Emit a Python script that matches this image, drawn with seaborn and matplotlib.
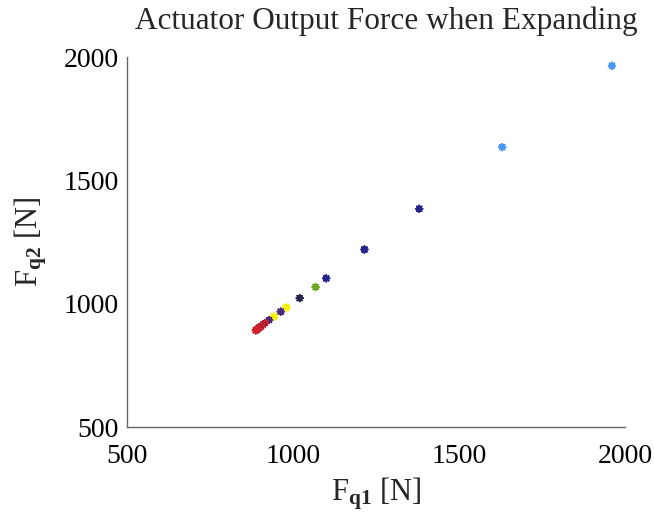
import matplotlib
matplotlib.use("Agg")
import matplotlib.pyplot as plt
import seaborn as sns
import pandas as pd

# Data
fq1 = [1960, 1630, 1380, 1215, 1100, 1068, 1020, 980, 963, 943, 928, 916, 910, 904, 899, 895, 891, 888]
fq2 = [1965, 1635, 1385, 1220, 1103, 1068, 1023, 985, 968, 948, 934, 922, 916, 909, 904, 899, 895, 892]
groups = ["c1", "c1", "b", "b", "b", "g", "k", "y", "p", "y", "p", "r", "r2", "r", "r2", "r", "r", "r"]
group_colors = {"c1": "#4a98ff", "b": "#24248e", "g": "#6aa81e", "k": "#24244e",
                "y": "#f4f000", "p": "#4a2a7a", "r": "#d0202a", "r2": "#9a2035"}

sns.set_style("white")
plt.rcParams["font.family"] = ["Liberation Serif", "DejaVu Serif"]
plt.rcParams["mathtext.fontset"] = "custom"
plt.rcParams["mathtext.rm"] = "Liberation Serif"
plt.rcParams["mathtext.it"] = "Liberation Serif:italic"
plt.rcParams["mathtext.bf"] = "Liberation Serif:bold"

df = pd.DataFrame({"fq1": fq1, "fq2": fq2, "grp": groups})

fig = plt.figure(figsize=(6.54, 5.14), dpi=100)
ax = fig.add_axes([0.194, 0.169, 0.762, 0.72])
sns.scatterplot(data=df, x="fq1", y="fq2", hue="grp", palette=group_colors,
                marker=(8, 2, 0), s=22, linewidth=1.3, legend=False, ax=ax)

ax.set_xlim(500, 2000)
ax.set_ylim(500, 2000)
ax.set_xticks([500, 1000, 1500, 2000])
ax.set_yticks([500, 1000, 1500, 2000])
for s in ["top", "right"]:
    ax.spines[s].set_visible(False)
for s in ["left", "bottom"]:
    ax.spines[s].set_color("#666666")
    ax.spines[s].set_linewidth(1.0)
ax.tick_params(direction="in", length=5, width=1, colors="#666666",
               labelcolor="black", labelsize=20)
ax.tick_params(axis="x", pad=12)
ax.tick_params(axis="y", pad=6)
ax.set_xlabel(r"F$_{\mathbf{q1}}$ [N]", fontsize=22, labelpad=5)
ax.set_ylabel(r"F$_{\mathbf{q2}}$ [N]", fontsize=22, labelpad=10)
ax.set_title("Actuator Output Force when Expanding", fontsize=22.5, pad=20, x=0.52)

fig.savefig("out.png", dpi=100)
